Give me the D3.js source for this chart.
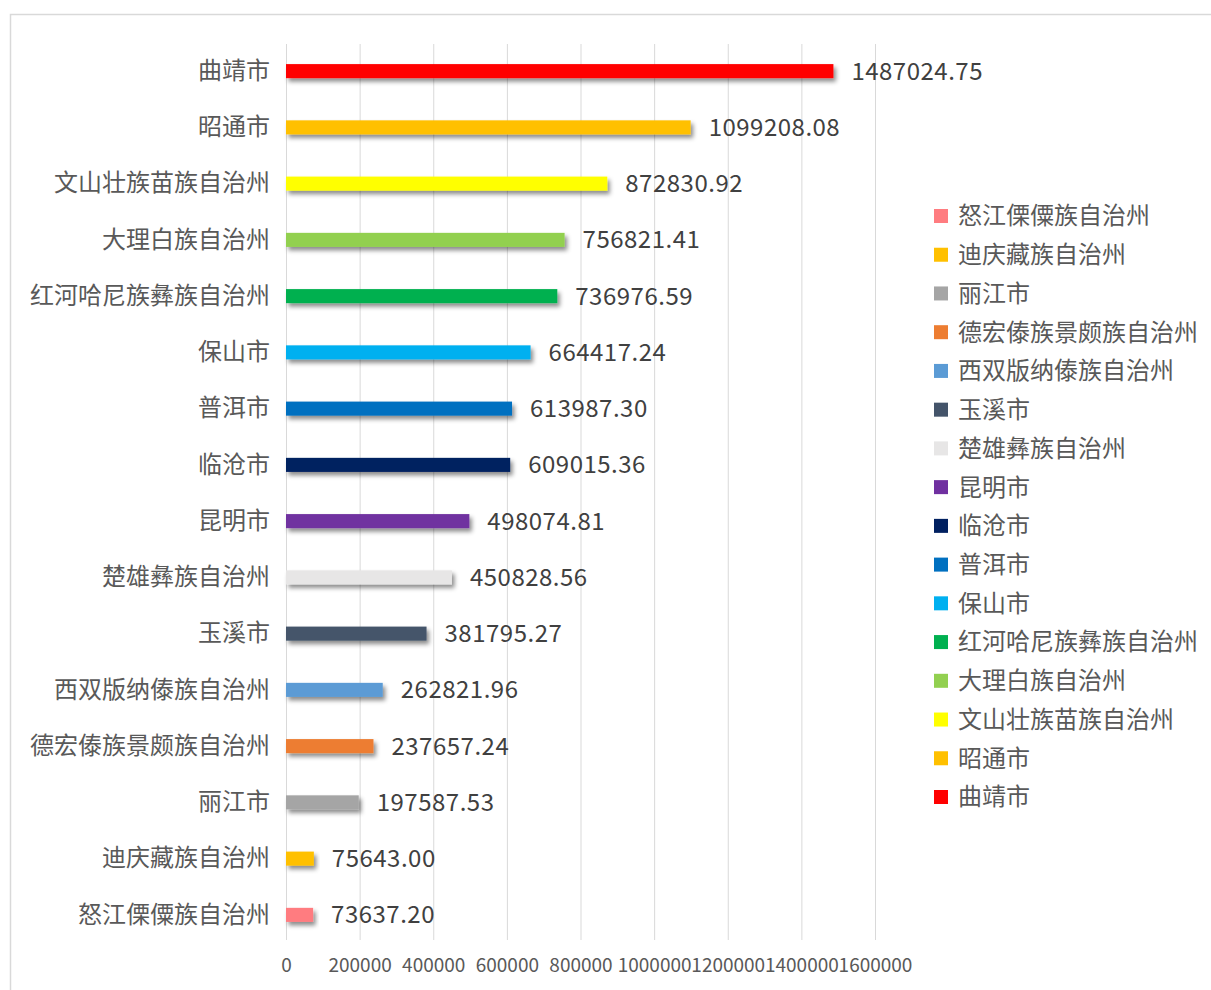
<!DOCTYPE html>
<html><head><meta charset="utf-8">
<script src="https://cdn.jsdelivr.net/npm/d3@7/dist/d3.min.js"></script>
<style>body{margin:0;background:#fff}svg{display:block}text{font-family:"Microsoft YaHei","Noto Sans CJK SC",sans-serif}</style>
</head><body><svg id="c" width="1211" height="990"></svg>
<script>
const categories = ["曲靖市","昭通市","文山壮族苗族自治州","大理白族自治州","红河哈尼族彝族自治州","保山市","普洱市","临沧市","昆明市","楚雄彝族自治州","玉溪市","西双版纳傣族自治州","德宏傣族景颇族自治州","丽江市","迪庆藏族自治州","怒江傈僳族自治州"];
const values = [1487024.75,1099208.08,872830.92,756821.41,736976.59,664417.24,613987.30,609015.36,498074.81,450828.56,381795.27,262821.96,237657.24,197587.53,75643.00,73637.20];
const colors = ["#FF0000","#FFC000","#FFFF00","#92D050","#00B050","#00B0F0","#0070C0","#002060","#7030A0","#E7E6E6","#44546A","#5B9BD5","#ED7D31","#A5A5A5","#FFC000","#FF7C80"];
const ticks = [0,200000,400000,600000,800000,1000000,1200000,1400000,1600000];

const svg = d3.select("#c");
svg.append("rect").attr("x",10.5).attr("y",14.5).attr("width",1230).attr("height",1000)
  .attr("fill","#fff").attr("stroke","#D9D9D9").attr("stroke-width",1.5);

const defs = svg.append("defs");
const f = defs.append("filter").attr("id","sh").attr("x","-10%").attr("y","-50%").attr("width","130%").attr("height","250%");
f.append("feDropShadow").attr("dx",2.5).attr("dy",3.5).attr("stdDeviation",2.2).attr("flood-color","#000").attr("flood-opacity",0.45);

const x = d3.scaleLinear().domain([0,1600000]).range([286,875]);
const y = d3.scaleBand().domain(categories).range([43,943]).paddingInner(0.75).paddingOuter(0.375);

// gridlines
svg.append("g").selectAll("line").data(ticks).join("line")
  .attr("x1",d=>x(d)+0.5).attr("x2",d=>x(d)+0.5).attr("y1",44).attr("y2",940)
  .attr("stroke","#D9D9D9").attr("stroke-width",1);

// x axis labels
const xa = d3.axisBottom(x).tickValues(ticks).tickFormat(d3.format("d")).tickSize(0).tickPadding(0);
const gx = svg.append("g").attr("transform","translate(0,958)").call(xa);
gx.select(".domain").remove();
gx.selectAll("text").attr("font-size",19).attr("fill","#595959").attr("dy","0.71em");

// bars
svg.append("g").selectAll("rect").data(categories).join("rect")
  .attr("x",x(0)).attr("y",d=>y(d)).attr("height",y.bandwidth())
  .attr("width",(d,i)=>x(values[i])-x(0)).attr("fill",(d,i)=>colors[i]).attr("filter","url(#sh)");

// value labels
svg.append("g").selectAll("text").data(categories).join("text")
  .attr("x",(d,i)=>x(values[i])+18).attr("y",d=>y(d)+y.bandwidth()/2).attr("dy","0.35em")
  .attr("font-size",24).attr("letter-spacing",0.5).attr("fill","#404040").text((d,i)=>values[i].toFixed(2));

// category axis
const ya = d3.axisLeft(y).tickSize(0).tickPadding(16);
const gy = svg.append("g").attr("transform",`translate(${x(0)},0)`).call(ya);
gy.select(".domain").remove();
gy.selectAll("text").attr("font-size",24).attr("fill","#595959");

// legend (reverse order)
const leg = categories.map((c,i)=>({c,col:colors[i]})).reverse();
const ly = d3.scalePoint().domain(leg.map(d=>d.c)).range([216,797]);
const lg = svg.append("g").selectAll("g").data(leg).join("g").attr("transform",d=>`translate(934,${ly(d.c)})`);
lg.append("rect").attr("x",0).attr("y",-7).attr("width",14).attr("height",14).attr("fill",d=>d.col);
lg.append("text").attr("x",24).attr("dy","0.35em").attr("font-size",24).attr("fill","#595959").text(d=>d.c);
</script></body></html>
